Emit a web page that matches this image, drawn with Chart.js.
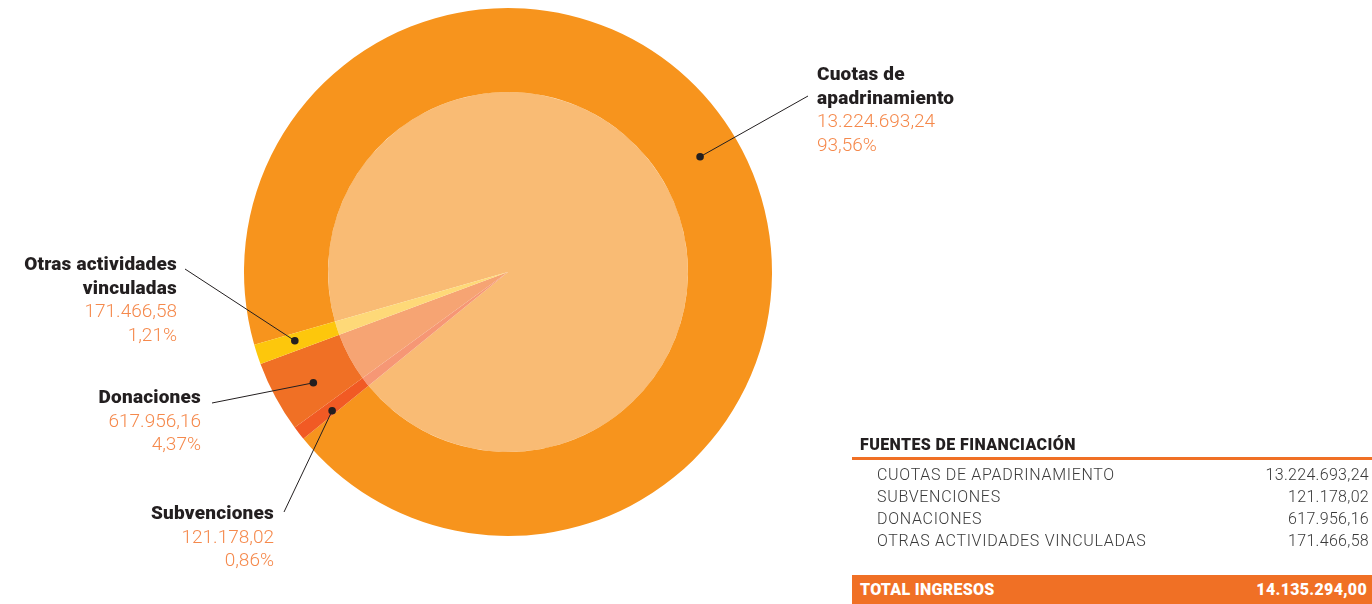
<!DOCTYPE html>
<html>
<head>
<meta charset="utf-8">
<script src="https://cdn.jsdelivr.net/npm/chart.js@4"></script>
<style>
    body { margin: 0; width: 1372px; height: 604px; position: relative; overflow: hidden; background: #fff; font-family: Roboto, sans-serif; }
    #wrap { position: absolute; left: 0; top: 0; width: 1372px; height: 604px; }
    .lbl { position: absolute; font-size: 19px; line-height: 23.5px; white-space: nowrap; }
    .lbl b { display: block; color: #231f20; font-weight: 900; letter-spacing: 0.2px; }
    .lbl span { display: block; color: #f5894c; font-weight: 300; }
    .right { text-align: right; }
    .tbl { position: absolute; font-size: 16px; line-height: 22px; white-space: nowrap; }
    .tbl-title { left: 860px; top: 434px; font-weight: 900; color: #231f20; letter-spacing: 0.4px; }
    .rule { position: absolute; left: 852px; top: 457px; width: 520px; height: 3px; background: #f07025; }
    .row { left: 877px; width: 492px; color: #3a3a3a; font-weight: 300; letter-spacing: 0.7px; }
    .row .v { position: absolute; right: 0; top: 0; letter-spacing: 0.3px; }
    .total { position: absolute; left: 852px; top: 575px; width: 520px; height: 29px; background: #f07025; color: #fff; font-weight: 900; font-size: 16px; line-height: 29px; letter-spacing: 0.3px; }
    .total .k { position: absolute; left: 8px; }
    .total .v { position: absolute; right: 5px; }
</style>
</head>
<body>
<div id="wrap"><canvas id="pie"></canvas></div>
<div id="labels"></div>
<div id="table"></div>
<script>
const categories = ["Cuotas de apadrinamiento", "Subvenciones", "Donaciones", "Otras actividades vinculadas"];
const amounts = [13224693.24, 121178.02, 617956.16, 171466.58];
const percents = [93.56, 0.86, 4.37, 1.21];
const totalIngresos = 14135294.00;

const outerColors = ["#f7941d", "#f15a24", "#f07025", "#fdc70c"];
const innerColors = ["#f9bb74", "#f69775", "#f6a473", "#fed978"];

function fmt(n) {
    const [ent, dec] = n.toFixed(2).split(".");
    return ent.replace(/\B(?=(\d{3})+(?!\d))/g, ".") + "," + dec;
}

function fmtPct(p) {
    return p.toFixed(2).replace(".", ",") + "%";
}

// label boxes: [left or right, top], and where the leader line starts
const labelPos = [
    { left: 817, top: 62, lines: ["Cuotas de", "apadrinamiento"], end: [808, 96], frac: 0.49 },
    { right: 1098, top: 501, lines: ["Subvenciones"], end: [284, 512], frac: 0.3 },
    { right: 1171, top: 385, lines: ["Donaciones"], end: [212, 403], frac: 0.41 },
    { right: 1195, top: 252, lines: ["Otras actividades", "vinculadas"], end: [185, 269], frac: 0.57 }
];

const labels = document.getElementById("labels");
labelPos.forEach((p, i) => {
    const d = document.createElement("div");
    d.className = "lbl" + (p.right !== undefined ? " right" : "");
    if (p.right !== undefined) d.style.right = p.right + "px";
    else d.style.left = p.left + "px";
    d.style.top = p.top + "px";
    d.innerHTML = p.lines.map(l => "<b>" + l + "</b>").join("") +
        "<span>" + fmt(amounts[i]) + "</span><span>" + fmtPct(percents[i]) + "</span>";
    labels.appendChild(d);
});

const table = document.getElementById("table");
let html = '<div class="tbl tbl-title">FUENTES DE FINANCIACIÓN</div><div class="rule"></div>';
categories.forEach((c, i) => {
    html += '<div class="tbl row" style="top:' + (464 + i * 22) + 'px">' + c.toUpperCase() +
        '<span class="v">' + fmt(amounts[i]) + '</span></div>';
});
html += '<div class="total"><span class="k">TOTAL INGRESOS</span><span class="v">' + fmt(totalIngresos) + '</span></div>';
table.innerHTML = html;

const leaders = {
    id: "leaders",
    afterDatasetsDraw(chart) {
        const ctx = chart.ctx;
        const arcs = chart.getDatasetMeta(0).data;
        ctx.save();
        labelPos.forEach((p, i) => {
            const a = arcs[i];
            const ang = a.startAngle + (a.endAngle - a.startAngle) * p.frac;
            const r = (a.innerRadius + a.outerRadius) / 2 + 2;
            const x = a.x + Math.cos(ang) * r;
            const y = a.y + Math.sin(ang) * r;
            ctx.strokeStyle = "#231f20";
            ctx.lineWidth = 1;
            ctx.beginPath();
            ctx.moveTo(p.end[0], p.end[1]);
            ctx.lineTo(x, y);
            ctx.stroke();
            ctx.fillStyle = "#231f20";
            ctx.beginPath();
            ctx.arc(x, y, 3.8, 0, Math.PI * 2);
            ctx.fill();
        });
        ctx.restore();
    }
};

new Chart(document.getElementById("pie"), {
    type: "pie",
    data: {
        labels: categories,
        datasets: [
            { data: amounts, backgroundColor: outerColors, borderWidth: 0, weight: 84 },
            { data: amounts, backgroundColor: innerColors, borderWidth: 0, weight: 180 }
        ]
    },
    options: {
        responsive: true,
        maintainAspectRatio: false,
        animation: false,
        rotation: 254,
        hoverOffset: 0,
        layout: { padding: { left: 244, right: 600, top: 8, bottom: 68 } },
        plugins: { legend: { display: false }, tooltip: { enabled: false } }
    },
    plugins: [leaders]
});
</script>
</body>
</html>
